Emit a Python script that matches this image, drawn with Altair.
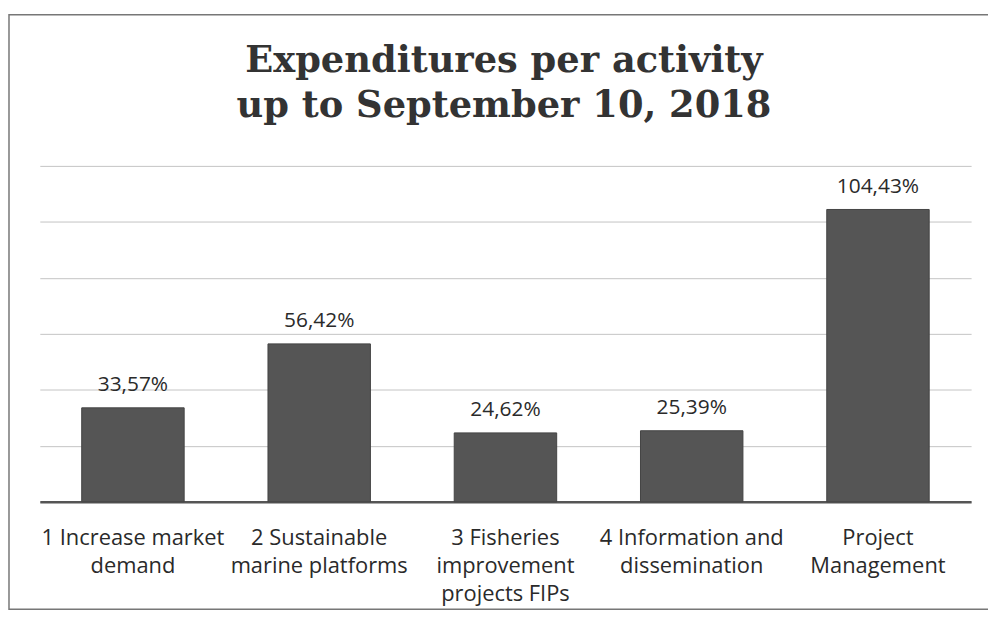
import altair as alt
import pandas as pd

categories = [
    "1 Increase market|demand",
    "2 Sustainable|marine platforms",
    "3 Fisheries|improvement|projects FIPs",
    "4 Information and|dissemination",
    "Project|Management",
]
values = [33.57, 56.42, 24.62, 25.39, 104.43]
labels = [f"{v:.2f}".replace(".", ",") + "%" for v in values]
grid_values = [0, 20, 40, 60, 80, 100, 120]
title_lines = ["Expenditures per activity", "up to September 10, 2018"]

df = pd.DataFrame({"cat": categories, "value": values, "label": labels})

W, H = 937, 338

x_enc = alt.X(
    "cat:N",
    sort=categories,
    title=None,
    scale=alt.Scale(paddingInner=0.45, paddingOuter=0.225),
    axis=alt.Axis(
        labelExpr="split(datum.label, '|')",
        labelAngle=0,
        labelFont="Open Sans",
        labelFontSize=22,
        labelColor="#2a2a2a",
        labelLineHeight=28,
        labelPadding=43,
        labelBaseline="alphabetic",
        labelLimit=0,
        labelOverlap=False,
        ticks=False,
        domainColor="#555555",
        domainWidth=2.5,
        grid=False,
    ),
)

y_enc = alt.Y(
    "value:Q",
    title=None,
    scale=alt.Scale(domain=[0, 120], nice=False),
    axis=alt.Axis(
        values=grid_values,
        labels=False,
        ticks=False,
        domain=False,
        grid=True,
        gridColor="#c4c4c4",
        gridWidth=1,
    ),
)

bars = alt.Chart(df).mark_bar(color="#555555", stroke="#444444", strokeWidth=1).encode(
    x=x_enc, y=y_enc
)

text = alt.Chart(df).mark_text(
    font="Open Sans", fontSize=21, color="#2a2a2a", baseline="alphabetic", dy=-17
).encode(x=alt.X("cat:N", sort=categories), y="value:Q", text="label:N")

frame = alt.Chart(df.head(1)).mark_rect(
    fill=None, stroke="#777777", strokeWidth=1.5, clip=False
).encode(
    x=alt.value(-31), x2=alt.value(1000), y=alt.value(-152), y2=alt.value(446)
)


def title_line(txt, ypix):
    return alt.Chart(pd.DataFrame({"t": [txt]})).mark_text(
        font="DejaVu Serif",
        fontSize=37,
        fontWeight="bold",
        color="#333333",
        align="center",
        baseline="alphabetic",
    ).encode(x=alt.value(467), y=alt.value(ypix), text="t:N")


chart = (
    alt.layer(
        frame,
        bars,
        text,
        title_line(title_lines[0], -94),
        title_line(title_lines[1], -49),
    )
    .properties(
        width=W,
        height=H,
        autosize=alt.AutoSizeParams(type="none"),
        padding={"left": 32, "top": 157, "right": 17, "bottom": 109},
    )
    .configure_view(stroke=None)
)

chart.save("out.html", embed_options={"renderer": "svg", "actions": False})
